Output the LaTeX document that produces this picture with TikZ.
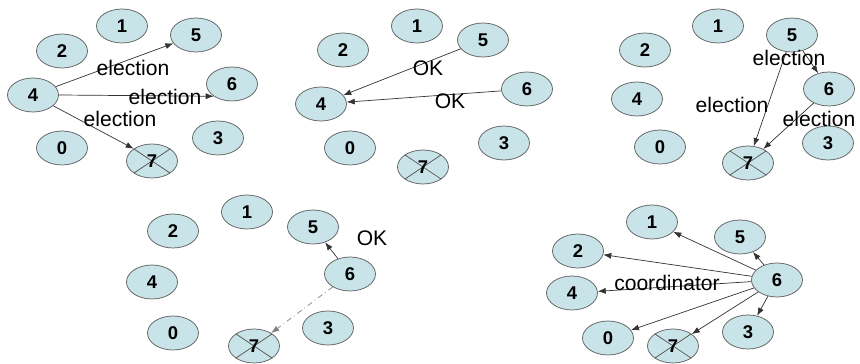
\documentclass[tikz,border=0pt]{standalone}
\usepackage{fontspec}
\setmainfont{Liberation Sans}
\usetikzlibrary{arrows.meta, shapes.geometric}
\definecolor{procfill}{RGB}{201,228,232}
\tikzset{
  proc/.style={draw=black!65, ellipse, fill=procfill, minimum width=1.02cm, minimum height=0.68cm, inner sep=0pt, font=\bfseries\fontsize{10.5}{12}\selectfont},
  dead/.style={proc, path picture={\draw[black!65] (path picture bounding box.north west) -- (path picture bounding box.south east)
      (path picture bounding box.south west) -- (path picture bounding box.north east);}},
  arr/.style={-{Latex[length=1.6mm, width=1.2mm]}, black!80, line width=0.4pt},
  msg/.style={font=\fontsize{12}{14}\selectfont},
}

\begin{document}
\begin{tikzpicture}[x=0.02cm, y=-0.02cm]
  \useasboundingbox (0,0) rectangle (860,364);

  % 4 starts the election
  \foreach \n/\x/\y in {1/122/26, 5/196/35, 2/62/51, 4/33/95, 6/232/84, 3/218/138, 0/62/148}
    \node[proc] (a\n) at (\x,\y) {\n};
  \node[dead] (a7) at (152,161) {7};
  \draw[arr] (a4) -- (a5);
  \draw[arr] (a4.east) -- (a6.south west);
  \draw[arr] (a4) -- (a7.north west);
  \node[msg] (la1) at (133,68) {election};
  \node[msg] (la2) at (165,97) {election};
  \node[msg] (la3) at (120,119) {election};

  % 5 and 6 answer
  \foreach \n/\x/\y in {1/417/26, 5/483/40, 2/343/50, 4/321/104, 6/527/89, 0/350/148, 3/504/143}
    \node[proc] (b\n) at (\x,\y) {\n};
  \node[dead] (b7) at (423,167) {7};
  \draw[arr] (b5) -- (b4);
  \draw[arr] (b6) -- (b4);
  \node[msg] (lb1) at (428,68) {OK};
  \node[msg] (lb2) at (450,101) {OK};

  % 5 and 6 hold elections
  \foreach \n/\x/\y in {1/718/26, 5/792/35, 2/645/50, 4/637/99, 6/829/89, 0/660/147, 3/828/143}
    \node[proc] (c\n) at (\x,\y) {\n};
  \node[dead] (c7) at (748,163) {7};
  \draw[arr] (c5) -- (c6);
  \draw[arr] (c5) -- (c7);
  \draw[arr] (c6) -- (c7);
  \node[msg] (lc1) at (789,58) {election};
  \node[msg] (lc2) at (732,105) {election};
  \node[msg] (lc3) at (819,119) {election};

  % 6 answers 5
  \foreach \n/\x/\y in {1/247/212, 5/313/227, 2/173/231, 4/152/282, 6/350/274, 0/173/333, 3/328/328}
    \node[proc] (d\n) at (\x,\y) {\n};
  \node[dead] (d7) at (254,346) {7};
  \draw[arr] (d6) -- (d5);
  \draw[arr, gray, dash dot] (d6) -- (d7);
  \node[msg] (ld1) at (372,238) {OK};

  % 6 is the coordinator
  \foreach \n/\x/\y in {1/652/222, 5/740/237, 2/578/251, 4/572/293, 6/777/280, 0/608/338, 3/748/332}
    \node[proc] (e\n) at (\x,\y) {\n};
  \node[dead] (e7) at (673,346) {7};
  \foreach \n in {1,5,2,4,0,7,3}
    \draw[arr] (e6) -- (e\n);
  \node[msg] (le1) at (667,283) {coordinator};
\end{tikzpicture}
\end{document}
